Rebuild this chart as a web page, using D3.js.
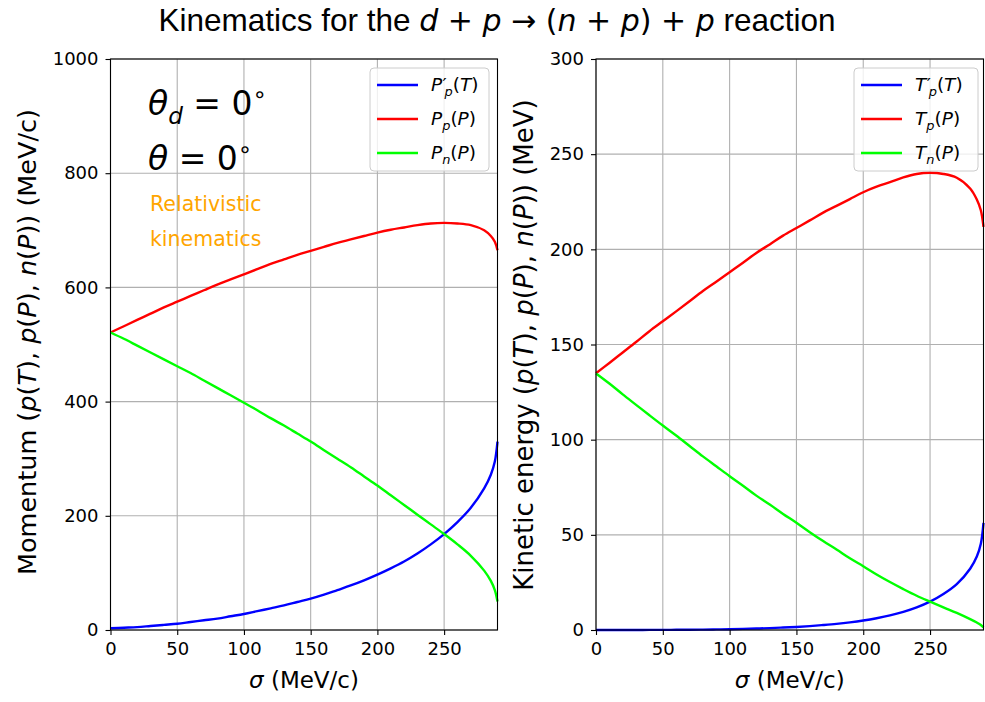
<!DOCTYPE html>
<html>
<head>
<meta charset="utf-8">
<script src="https://cdn.jsdelivr.net/npm/d3@7"></script>
<style>
  body { margin: 0; background: #fff; }
  svg text { font-family: "DejaVu Sans", sans-serif; }
</style>
</head>
<body>
<div class="chart"></div>
<script>
// sigma values (MeV/c) along the x axis
var sigma = [0, 10, 20, 30, 40, 50, 60, 70, 80, 90, 100, 110, 120, 130, 140, 150, 160, 170, 180, 190,
  200, 210, 220, 230, 240, 250, 260, 270, 280, 285, 288, 290];

// momenta (MeV/c)
var momPT = [3, 4, 5, 7, 9, 11, 14, 17, 20, 24, 28, 33, 38, 43, 49, 55, 62, 70, 78, 87,
  97, 108, 120, 134, 150, 168, 189, 214, 248, 272, 295, 330];
var momPP = [521, 532, 543, 554, 565, 575, 585, 595, 605, 614, 623, 632, 641, 649, 657, 664, 671, 678, 684, 690,
  696, 701, 705, 709, 712, 713, 712, 709, 700, 690, 680, 665];
var momNP = [521, 510, 498, 486, 474, 462, 450, 437, 424, 411, 398, 385, 371, 358, 344, 330, 315, 300, 285, 269,
  253, 236, 219, 202, 185, 168, 150, 130, 104, 86, 70, 50];

// kinetic energies (MeV)
var kinPT = [0, 0.01, 0.01, 0.03, 0.04, 0.06, 0.1, 0.15, 0.21, 0.31, 0.42, 0.58, 0.77, 0.98, 1.28, 1.61, 2.05, 2.61, 3.24, 4.03,
  5.0, 6.2, 7.65, 9.53, 11.9, 14.9, 18.9, 24.1, 32.2, 38.6, 45.3, 56.3];
var kinPP = [134.9, 140.3, 145.8, 151.3, 157.0, 162.2, 167.4, 172.7, 178.1, 183.0, 188.0, 193.0, 198.1, 202.6, 207.2, 211.2, 215.2, 219.3, 222.8, 226.4,
  230.0, 232.9, 235.3, 237.8, 239.6, 240.2, 239.6, 237.6, 232.0, 226.2, 220.5, 211.8];
var kinNP = [134.8, 129.5, 123.8, 118.3, 112.8, 107.4, 102.2, 96.7, 91.2, 86.0, 80.8, 75.8, 70.6, 65.9, 61.0, 56.3, 51.4, 46.7, 42.3, 37.7,
  33.5, 29.2, 25.2, 21.5, 18.0, 14.9, 11.9, 9.0, 5.7, 3.9, 2.6, 1.3];

var xTicks = [0, 50, 100, 150, 200, 250];
var momTicks = [0, 200, 400, 600, 800, 1000];
var kinTicks = [0, 50, 100, 150, 200, 250, 300];

var width = 985, height = 702;
var svg = d3.select('.chart').append('svg').attr('width', width).attr('height', height);

// writes a mixed text/math label: parts are {t, i (italic), sub, sup, dx}
function rich(sel, parts, size) {
  var shift = 0;
  parts.forEach(function (p) {
    var ts = sel.append('tspan').text(p.t);
    var target = p.sub ? size * 0.28 : (p.sup ? -size * 0.38 : 0);
    if (target - shift !== 0) ts.attr('dy', target - shift);
    if (p.dx) ts.attr('dx', p.dx * size);
    shift = target;
    if (p.sub || p.sup) ts.attr('font-size', size * 0.7);
    if (p.i) ts.attr('font-style', 'italic');
  });
  return sel;
}

function panel(opt) {
  var left = opt.left, right = opt.right, top = 59, bottom = 630;
  var x = d3.scaleLinear().domain([0, 290]).range([left, right]);
  var y = d3.scaleLinear().domain(opt.yDomain).range([bottom, top]);
  var g = svg.append('g');

  // grid
  g.append('g').selectAll('line').data(xTicks).enter().append('line')
    .attr('x1', function (d) { return x(d); }).attr('x2', function (d) { return x(d); })
    .attr('y1', top).attr('y2', bottom).attr('stroke', '#b0b0b0').attr('stroke-width', 1.1);
  g.append('g').selectAll('line').data(opt.yTicks).enter().append('line')
    .attr('y1', function (d) { return y(d); }).attr('y2', function (d) { return y(d); })
    .attr('x1', left).attr('x2', right).attr('stroke', '#b0b0b0').attr('stroke-width', 1.1);

  // curves
  var line = d3.line().x(function (d) { return x(d[0]); }).y(function (d) { return y(d[1]); })
    .curve(d3.curveCatmullRom.alpha(0.5));
  var colors = ['#0000ff', '#ff0000', '#00ff00'];
  opt.series.forEach(function (s, k) {
    g.append('path').datum(sigma.map(function (v, i) { return [v, s[i]]; }))
      .attr('d', line).attr('fill', 'none').attr('stroke', colors[k]).attr('stroke-width', 2.4);
  });

  // axes
  var xAxis = g.append('g').attr('transform', 'translate(0,' + bottom + ')')
    .call(d3.axisBottom(x).tickValues(xTicks).tickSize(5).tickPadding(7).tickFormat(d3.format('d')));
  var yAxis = g.append('g').attr('transform', 'translate(' + left + ',0)')
    .call(d3.axisLeft(y).tickValues(opt.yTicks).tickSize(5).tickPadding(7).tickFormat(d3.format('d')));
  [xAxis, yAxis].forEach(function (a) {
    a.select('.domain').remove();
    a.selectAll('line').attr('stroke', '#000').attr('stroke-width', 1.1);
    a.selectAll('text').attr('font-size', 18).attr('fill', '#000')
      .attr('font-family', '"DejaVu Sans", sans-serif');
  });
  g.append('rect').attr('x', left).attr('y', top).attr('width', right - left).attr('height', bottom - top)
    .attr('fill', 'none').attr('stroke', '#000').attr('stroke-width', 1.1);

  // axis labels
  rich(g.append('text').attr('x', (left + right) / 2).attr('y', 688).attr('text-anchor', 'middle')
    .attr('font-size', 23), [{ t: 'σ', i: true }, { t: ' (MeV/c)' }], 23);
  rich(g.append('text').attr('transform', 'translate(' + opt.ylabX + ',' + opt.ylabY + ') rotate(-90)')
    .attr('text-anchor', 'middle').attr('font-size', opt.ylabSize), opt.ylabel, opt.ylabSize);

  // legend
  var lg = g.append('g').attr('transform', 'translate(' + opt.legX + ',68)');
  lg.append('rect').attr('width', opt.legW).attr('height', 103).attr('rx', 4)
    .attr('fill', '#fff').attr('fill-opacity', 0.8).attr('stroke', '#cccccc');
  opt.legend.forEach(function (parts, k) {
    var yy = 17 + k * 34;
    lg.append('line').attr('x1', 7).attr('x2', 48).attr('y1', yy).attr('y2', yy)
      .attr('stroke', colors[k]).attr('stroke-width', 2.4);
    rich(lg.append('text').attr('x', 61).attr('y', yy + 6).attr('font-size', 18.5), parts, 18.5);
  });
  return g;
}

function legendParts(sym, sub, arg, prime) {
  var p = [{ t: sym, i: true }];
  if (prime) p.push({ t: '′', dx: 0.02 });
  p.push({ t: sub, sub: true, i: true, dx: prime ? -0.12 : 0 });
  p.push({ t: '(' }, { t: arg, i: true }, { t: ')' });
  return p;
}

function ylab(name, unit) {
  return [{ t: name + ' (' }, { t: 'p', i: true }, { t: '(' }, { t: 'T', i: true }, { t: '), ' },
    { t: 'p', i: true }, { t: '(' }, { t: 'P', i: true }, { t: '), ' },
    { t: 'n', i: true }, { t: '(' }, { t: 'P', i: true }, { t: ')' }, { t: ') (' + unit + ')' }];
}

var momentum = panel({
  left: 110.5, right: 497.5, yDomain: [0, 1000], yTicks: momTicks,
  series: [momPT, momPP, momNP], ylabX: 36, ylabY: 342, ylabSize: 25.5, legX: 370, legW: 119,
  ylabel: ylab('Momentum', 'MeV/c'),
  legend: [legendParts('P', 'p', 'T', true), legendParts('P', 'p', 'P'), legendParts('P', 'n', 'P')]
});

var kinetic = panel({
  left: 596, right: 983.5, yDomain: [0, 300], yTicks: kinTicks,
  series: [kinPT, kinPP, kinNP], ylabX: 533, ylabY: 345, ylabSize: 26, legX: 854, legW: 124,
  ylabel: ylab('Kinetic energy', 'MeV'),
  legend: [legendParts('T', 'p', 'T', true), legendParts('T', 'p', 'P'), legendParts('T', 'n', 'P')]
});

// annotations in the momentum panel
rich(momentum.append('text').attr('x', 148).attr('y', 115).attr('font-size', 33),
  [{ t: 'θ', i: true }, { t: 'd', sub: true, i: true }, { t: ' = 0' }, { t: '∘', sup: true }], 33);
rich(momentum.append('text').attr('x', 148).attr('y', 170).attr('font-size', 33),
  [{ t: 'θ', i: true }, { t: ' = 0' }, { t: '∘', sup: true }], 33);
momentum.append('text').attr('x', 150).attr('y', 211).attr('font-size', 20.5).attr('fill', '#ffa500').text('Relativistic');
momentum.append('text').attr('x', 150).attr('y', 246).attr('font-size', 20.5).attr('fill', '#ffa500').text('kinematics');

// title
var title = svg.append('text').attr('x', 497).attr('y', 31).attr('text-anchor', 'middle').attr('font-size', 30);
rich(title, [{ t: 'Kinematics for the ' }, { t: 'd', i: true }, { t: ' + ' }, { t: 'p', i: true }, { t: ' → (' },
  { t: 'n', i: true }, { t: ' + ' }, { t: 'p', i: true }, { t: ') + ' }, { t: 'p', i: true }, { t: ' reaction' }], 30);
title.select('tspan').attr('font-family', '"Liberation Sans", sans-serif').attr('font-size', 31.5);
title.selectAll('tspan').filter(function (d, i, n) { return i === n.length - 1; })
  .attr('font-family', '"Liberation Sans", sans-serif').attr('font-size', 31.5);
</script>
</body>
</html>
